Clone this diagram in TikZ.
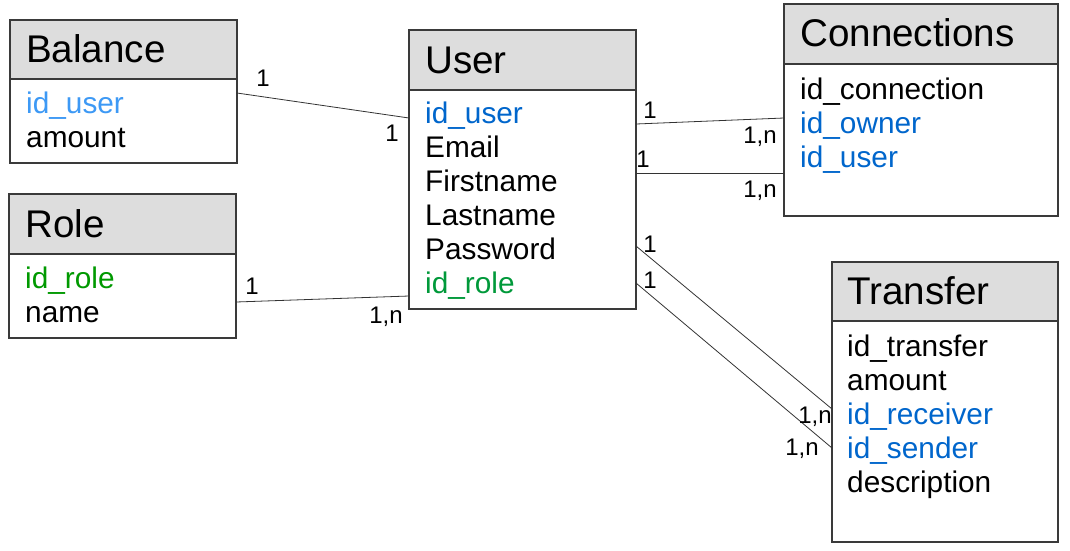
\documentclass[tikz,border=0pt]{standalone}
\usepackage{fontspec}
\setmainfont{Liberation Sans}
\usetikzlibrary{calc}

\definecolor{hdrfill}{HTML}{DDDDDD}
\definecolor{boxline}{HTML}{3A3A3A}
\definecolor{keyblue}{HTML}{0066CC}
\definecolor{lightblue}{HTML}{3D99F5}
\definecolor{rolegreen}{HTML}{009900}
\definecolor{fkgreen}{HTML}{00993A}
\definecolor{linkgray}{HTML}{333333}

\tikzset{
  hdr/.style={draw=boxline, line width=1.3pt, fill=hdrfill, rectangle,
    anchor=north west, inner sep=0pt, outer sep=0pt},
  bdy/.style={draw=boxline, line width=1.3pt, fill=white, rectangle,
    anchor=north west, inner sep=0pt, outer sep=0pt},
  title/.style={anchor=base west, inner sep=0pt, font=\fontsize{38.6}{44}\selectfont},
  field/.style={anchor=base west, inner sep=0pt, font=\fontsize{29.8}{34}\selectfont},
  card/.style={anchor=base, inner sep=0pt, font=\fontsize{24}{28}\selectfont},
  link/.style={draw=linkgray, line width=0.8pt}
}

\begin{document}
\begin{tikzpicture}[x=1pt, y=-1pt]
\useasboundingbox (0,0) rectangle (1070,550);

% ---- Balance ----
\node[hdr, minimum width=227pt, minimum height=59pt] (balh) at (10,20) {};
\node[bdy, minimum width=227pt, minimum height=84pt] (balb) at (balh.south west) {};
\node[title] (balt) at (26,62) {Balance};
\node[field, text=lightblue] (balf1) at (26,113) {id\_user};
\node[field] (balf2) at (26,147) {amount};

% ---- Role ----
\node[hdr, minimum width=227pt, minimum height=60pt] (roleh) at (9,194) {};
\node[bdy, minimum width=227pt, minimum height=84pt] (roleb) at (roleh.south west) {};
\node[title] (rolet) at (25,237) {Role};
\node[field, text=rolegreen] (rolef1) at (25,288) {id\_role};
\node[field] (rolef2) at (25,322) {name};

% ---- User ----
\node[hdr, minimum width=227pt, minimum height=60pt] (userh) at (409,30) {};
\node[bdy, minimum width=227pt, minimum height=219pt] (userb) at (userh.south west) {};
\node[title] (usert) at (425,73) {User};
\node[field, text=keyblue] (userf1) at (425,123) {id\_user};
\node[field] (userf2) at (425,157) {Email};
\node[field] (userf3) at (425,191) {Firstname};
\node[field] (userf4) at (425,225) {Lastname};
\node[field] (userf5) at (425,259) {Password};
\node[field, text=fkgreen] (userf6) at (425,293) {id\_role};

% ---- Connections ----
\node[hdr, minimum width=274pt, minimum height=60pt] (conh) at (784,4) {};
\node[bdy, minimum width=274pt, minimum height=152pt] (conb) at (conh.south west) {};
\node[title] (cont) at (800,46) {Connections};
\node[field] (conf1) at (800,99) {id\_connection};
\node[field, text=keyblue] (conf2) at (800,133) {id\_owner};
\node[field, text=keyblue] (conf3) at (800,167) {id\_user};

% ---- Transfer ----
\node[hdr, minimum width=226pt, minimum height=59pt] (trah) at (832,262) {};
\node[bdy, minimum width=226pt, minimum height=221pt] (trab) at (trah.south west) {};
\node[title] (trat) at (847,304) {Transfer};
\node[field] (traf1) at (847,356) {id\_transfer};
\node[field] (traf2) at (847,390) {amount};
\node[field, text=keyblue] (traf3) at (847,424) {id\_receiver};
\node[field, text=keyblue] (traf4) at (847,458) {id\_sender};
\node[field] (traf5) at (847,492) {description};

% ---- attachment points on the box edges ----
\coordinate (balout)  at (balb.east |- 0,93);
\coordinate (userin1) at (userb.west |- 0,118);
\coordinate (roleout) at (roleb.east |- 0,302);
\coordinate (userin2) at (userb.west |- 0,296);
\coordinate (userout1) at (userb.east |- 0,124);
\coordinate (conin1)   at (conb.west |- 0,118);
\coordinate (userout2) at (userb.east |- 0,173);
\coordinate (conin2)   at (conb.west |- 0,173);
\coordinate (userout3) at (userb.east |- 0,246);
\coordinate (train1)   at (trab.west |- 0,409);
\coordinate (userout4) at (userb.east |- 0,283);
\coordinate (train2)   at (trab.west |- 0,448);

% ---- relationships ----
\draw[link] (balout) -- (userin1);
\draw[link] (roleout) -- (userin2);
\draw[link] (userout1) -- (conin1);
\draw[link] (userout2) -- (conin2);
\draw[link] (userout3) -- (train1);
\draw[link] (userout4) -- (train2);

% ---- cardinalities ----
\node[card] (c1) at (263,86) {1};
\node[card] (c2) at (392,141) {1};
\node[card] (c3) at (252,294) {1};
\node[card] (c4) at (386,323) {1,n};
\node[card] (c5) at (650,118) {1};
\node[card] (c6) at (760,143) {1,n};
\node[card] (c7) at (643,167) {1};
\node[card] (c8) at (760,197) {1,n};
\node[card] (c9) at (650,252) {1};
\node[card] (c10) at (650,288) {1};
\node[card] (c11) at (815,423) {1,n};
\node[card] (c12) at (802,455) {1,n};
\end{tikzpicture}
\end{document}
